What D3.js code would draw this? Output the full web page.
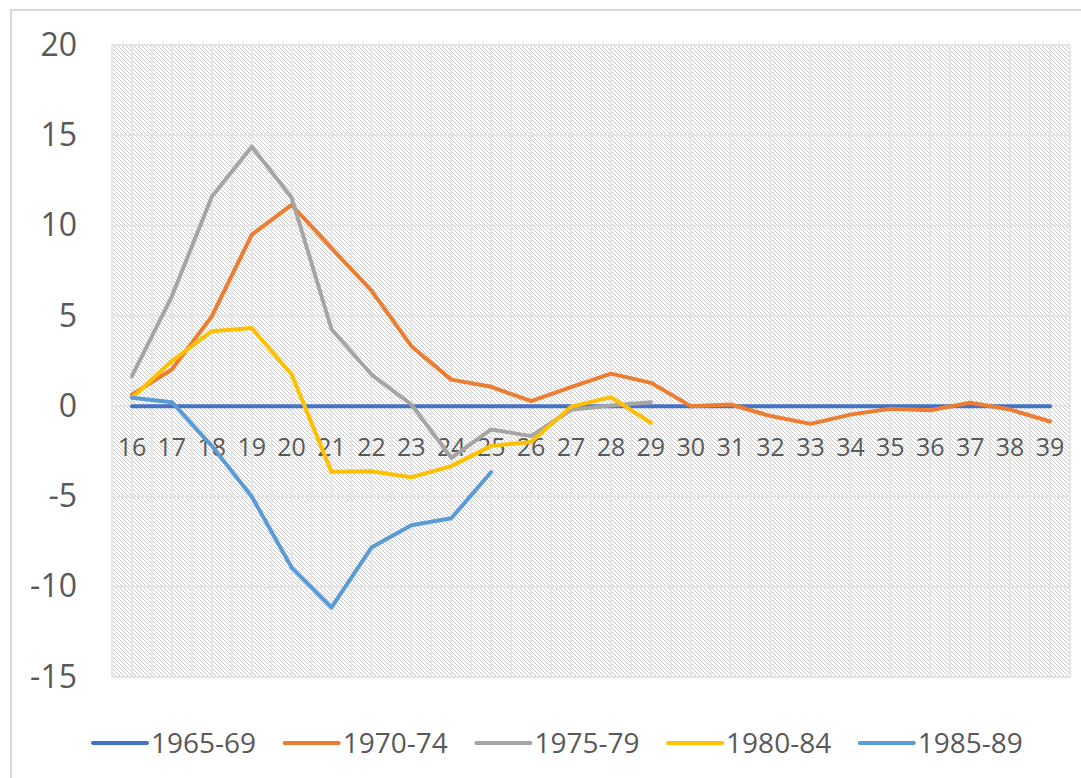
<!DOCTYPE html>
<html>
<head>
<meta charset="utf-8">
<script src="https://cdn.jsdelivr.net/npm/d3@7"></script>
<style>
  body { margin: 0; background: #fff; }
  svg { display: block; font-family: "Open Sans", "Liberation Sans", sans-serif; }
</style>
</head>
<body>
<div id="chart"></div>
<script>
// ages on the category axis
var ages = ["16","17","18","19","20","21","22","23","24","25","26","27",
            "28","29","30","31","32","33","34","35","36","37","38","39"];

var seriesNames = ["1965-69", "1970-74", "1975-79", "1980-84", "1985-89"];
var seriesColors = ["#4472C4", "#ED7D31", "#A5A5A5", "#FFC000", "#5B9BD5"];

var s1965 = [0,0,0,0,0,0,0,0,0,0,0,0,0,0,0,0,0,0,0,0,0,0,0,0];
var s1970 = [0.64, 2.03, 4.97, 9.49, 11.15, 8.75, 6.4, 3.32, 1.47, 1.07, 0.28, 1.05,
             1.8, 1.29, 0, 0.09, -0.55, -0.98, -0.47, -0.15, -0.23, 0.19, -0.19, -0.85];
var s1975 = [1.66, 6.08, 11.6, 14.37, 11.55, 4.26, 1.75, 0.09, -2.86, -1.29, -1.66, -0.2,
             0.04, 0.22];
var s1980 = [0.46, 2.5, 4.15, 4.33, 1.75, -3.64, -3.6, -3.94, -3.32, -2.2, -1.99, -0.03,
             0.5, -0.92];
var s1985 = [0.46, 0.22, -2.2, -5.0, -8.94, -11.15, -7.83, -6.6, -6.21, -3.65];

var yTicks = [20, 15, 10, 5, 0, -5, -10, -15];

var allSeries = [s1965, s1970, s1975, s1980, s1985];

var W = 1081, H = 778;
var plot = {left: 112, right: 1070, top: 45, bottom: 677};

var svg = d3.select("#chart").append("svg")
    .attr("width", W)
    .attr("height", H);

// hatch pattern for plot background
var defs = svg.append("defs");
var pat = defs.append("pattern")
    .attr("id", "hatch")
    .attr("patternUnits", "userSpaceOnUse")
    .attr("width", 4).attr("height", 4);
pat.append("rect").attr("width", 4).attr("height", 4).attr("fill", "#fff");
[0,1,2,3].forEach(function(i){
  pat.append("rect").attr("x", i).attr("y", i)
     .attr("width", 1).attr("height", 1).attr("fill", "#c8c8c8");
});

// chart border
svg.append("rect")
    .attr("x", 11).attr("y", 10)
    .attr("width", W + 20).attr("height", H + 20)
    .attr("fill", "none")
    .attr("stroke", "#d9d9d9")
    .attr("stroke-width", 2);

var x = d3.scaleBand()
    .domain(ages)
    .range([plot.left, plot.right])
    .padding(0);

var y = d3.scaleLinear()
    .domain([-15, 20])
    .range([plot.bottom, plot.top]);

function cx(d){ return x(d) + x.bandwidth() / 2; }

// plot area
svg.append("rect")
    .attr("x", plot.left).attr("y", plot.top)
    .attr("width", plot.right - plot.left)
    .attr("height", plot.bottom - plot.top)
    .attr("fill", "url(#hatch)")
    .attr("shape-rendering", "crispEdges");

// vertical gridlines: category boundaries and centers
var vLines = [];
ages.forEach(function(a){ vLines.push(x(a)); vLines.push(cx(a)); });
vLines.push(plot.right);

var grid = svg.append("g").attr("class", "grid");
grid.selectAll("line.v")
    .data(vLines)
    .enter().append("line")
    .attr("class", "v")
    .attr("x1", function(d){ return d; })
    .attr("x2", function(d){ return d; })
    .attr("y1", plot.top).attr("y2", plot.bottom)
    .attr("stroke", "#e6e6e6")
    .attr("stroke-width", 2);

grid.selectAll("line.h")
    .data(yTicks)
    .enter().append("line")
    .attr("class", "h")
    .attr("x1", plot.left).attr("x2", plot.right)
    .attr("y1", function(d){ return y(d); })
    .attr("y2", function(d){ return y(d); })
    .attr("stroke", "#e3e3e3")
    .attr("stroke-width", 2);

// y axis labels (plain hyphen for negatives)
var yAxis = d3.axisLeft(y).tickValues(yTicks).tickSize(0).tickPadding(0)
    .tickFormat(function(d){ return String(d); });
var yG = svg.append("g")
    .attr("transform", "translate(77,0)")
    .call(yAxis);
yG.select(".domain").remove();
yG.selectAll("text")
    .attr("fill", "#595959")
    .style("font-size", "32px")
    .style("font-family", "'Open Sans', sans-serif");

// x axis labels, placed under the zero line
var xAxis = d3.axisBottom(x).tickSize(0).tickPadding(0);
var xG = svg.append("g")
    .attr("transform", "translate(0," + y(0) + ")")
    .call(xAxis);
xG.select(".domain").remove();
xG.selectAll("text")
    .attr("y", 50)
    .attr("dy", 0)
    .attr("fill", "#595959")
    .style("font-size", "25px")
    .style("font-family", "'Open Sans', sans-serif");

// lines
var line = d3.line()
    .defined(function(d){ return d.v !== null && d.v !== undefined; })
    .x(function(d){ return cx(d.age); })
    .y(function(d){ return y(d.v); });

allSeries.forEach(function(s, i){
  var pts = ages.map(function(a, j){ return {age: a, v: j < s.length ? s[j] : null}; });
  svg.append("path")
    .datum(pts)
    .attr("d", line)
    .attr("fill", "none")
    .attr("stroke", seriesColors[i])
    .attr("stroke-width", 4)
    .attr("stroke-linejoin", "round")
    .attr("stroke-linecap", "round");
});

// legend
var legend = svg.append("g").attr("transform", "translate(93,743)");
var item = legend.selectAll("g")
    .data(seriesNames)
    .enter().append("g")
    .attr("transform", function(d, i){ return "translate(" + (i * 191.7) + ",0)"; });
item.append("line")
    .attr("x1", 0).attr("x2", 54)
    .attr("y1", 0).attr("y2", 0)
    .attr("stroke", function(d, i){ return seriesColors[i]; })
    .attr("stroke-width", 4)
    .attr("stroke-linecap", "round");
item.append("text")
    .attr("x", 58)
    .attr("y", 10)
    .attr("fill", "#595959")
    .style("font-size", "28px")
    .text(function(d){ return d; });
</script>
</body>
</html>
